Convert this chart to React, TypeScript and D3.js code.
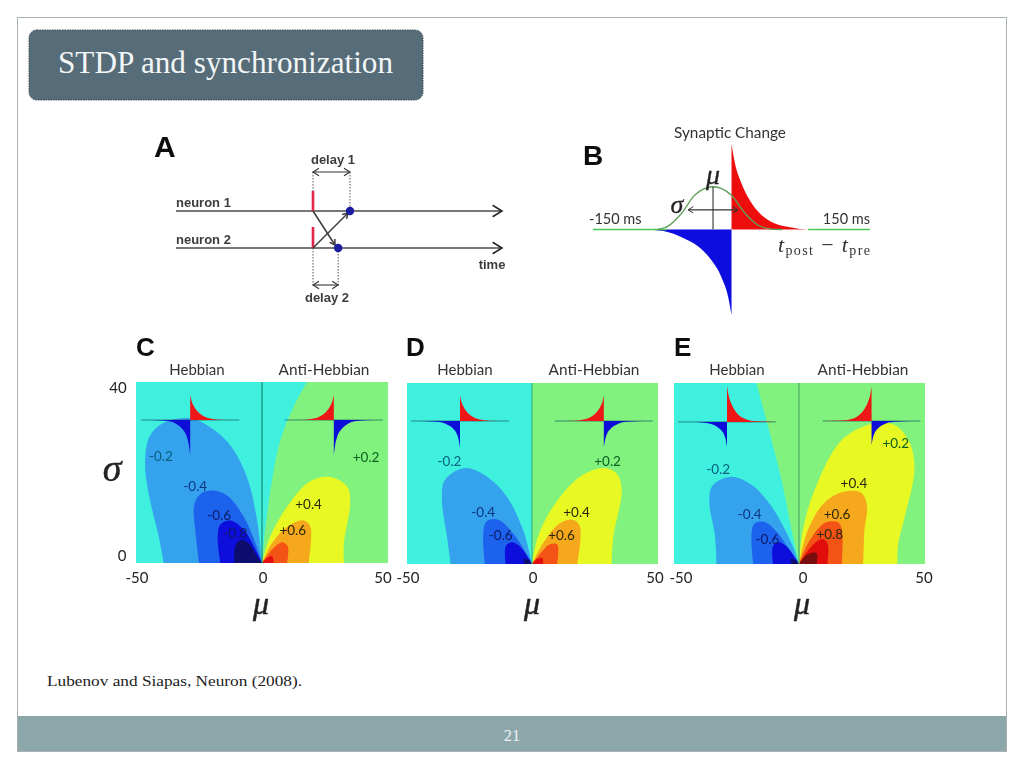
import React from "react";
import * as d3 from "d3";

type P = [number, number];

// ---------- Contour data: [mu, sigma] ----------
const cNeutral: P[] = [[0,0],[1.3,7.4],[4,18.4],[7.3,27.2],[12.6,34.6],[17.9,40]];
const cNeg: P[][] = [
  [[-39,0],[-41,5.9],[-45,15.4],[-46.4,22],[-44.6,28],[-39,31],[-28.5,32],[-20.5,30],[-12.6,26],[-6,19],[-2,9.6],[0,0]],
  [[-25,0],[-26.5,7.4],[-27,12.5],[-25,15],[-20.5,16],[-14,15],[-7.3,10.3],[-2.6,4.4],[0,0]],
  [[-16.5,0],[-17.6,5.9],[-16.5,8.5],[-12.6,9.4],[-7.3,7.4],[-2.6,3],[0,0]],
  [[-11,0],[-10.6,3.7],[-8.6,5.1],[-5.3,4.4],[-2,1.5],[0,0]],
];
const cPos: P[][] = [
  [[32.5,0],[32.5,4.4],[35,13.2],[33.8,16.9],[27,19],[19,18],[10,12.5],[3.3,5.9],[0,0]],
  [[18.5,0],[19.2,8],[16.6,9.4],[10,8],[4,4.4],[0,0]],
  [[10,0],[10.2,3.7],[8,4.6],[4,3],[0,0]],
  [[4.6,0],[4,1.5],[2,1.1],[0,0]],
];
const dNeutral: P[] = [[0,0],[0,40]];
const dNeg: P[][] = [
  [[-32.5,0],[-34,6],[-36,14.2],[-34.8,18.6],[-26.8,21.2],[-18,19.3],[-10.2,15],[-3.6,7.6],[0,0]],
  [[-18.9,0],[-19.5,6.8],[-18.2,9.4],[-13.5,9.8],[-7.6,6.8],[-1.6,1.7],[0,0]],
  [[-10.5,0],[-10.5,3.9],[-8.2,4.8],[-4.9,3.9],[0,0]],
  [[-2.9,0],[-3.3,1],[-1.6,1],[0,0]],
];
const dPos: P[][] = [
  [[31.6,0],[32.3,6.1],[35.6,16.4],[33.6,20],[28.3,21.2],[19,19.3],[8.4,12.7],[2.4,6.1],[0,0]],
  [[18,0],[19,8.3],[16.3,9.8],[11,9],[4.4,4.6],[0,0]],
  [[10,0],[10,4.3],[7,4.3],[2.4,1.7],[0,0]],
  [[4.4,0],[4.1,1.3],[1.7,1],[0,0]],
];
const eNeutral: P[] = [[0,0],[-3,7.6],[-7,18.6],[-12.4,30.4],[-17,40]];
const eNeg: P[][] = [
  [[-33,0],[-33.6,6.1],[-35.9,14.2],[-34.3,17.5],[-27,19.3],[-19,17.5],[-11,12.7],[-3,4.6],[0,0]],
  [[-18.3,0],[-19,6.8],[-17.7,9],[-13.7,9.3],[-8.4,6.8],[-2.4,1.7],[0,0]],
  [[-10.4,0],[-10.4,3.9],[-8.4,4.8],[-5,3.9],[0,0]],
  [[-3,0],[-3.3,1],[-1.6,1],[0,0]],
];
const ePos: P[][] = [
  [[39,0],[39.4,4.6],[42,10.5],[45.8,20.8],[44,26.7],[38,30.7],[29,31],[17,27.4],[6.2,16.4],[1.6,7.6],[0,0]],
  [[25.5,0],[26,7.6],[27,12.7],[24.8,15.7],[18,16],[10,13.5],[3.6,7.6],[0,0]],
  [[17,0],[17,7.6],[15.5,9.2],[10,9],[3.6,4.6],[0,0]],
  [[11.3,0],[11.3,4.6],[9,5.5],[5,3.9],[0,0]],
  [[7,0],[7,2.4],[3,2],[0,0]],
];

const negColors = ["#36a2ee", "#1f62ec", "#0808dc", "#08086e"];
const posColors = ["#e8f822", "#f6a81e", "#f45212", "#e21010", "#780a0a"];
const cyanBg = "#3ff0de";
const greenBg = "#82f27e";

type Lbl = [string, number, number];
const cLabels: Lbl[] = [["-0.2",-40.1,23.7],["-0.4",-26.5,17],["-0.6",-17,10.5],["-0.8",-10.6,6.6],["+0.2",41.3,23.4],["+0.4",18.5,13],["+0.6",12.2,7.4]];
const dLabels: Lbl[] = [["-0.2",-33,22.8],["-0.4",-19.5,11.6],["-0.6",-12.5,6.3],["+0.2",30,22.8],["+0.4",17.7,11.5],["+0.6",11.7,6.5]];
const eLabels: Lbl[] = [["-0.2",-32.3,21],["-0.4",-19.7,11],["-0.6",-12.6,5.5],["+0.2",38.4,26.8],["+0.4",21.8,18],["+0.6",15.1,11],["+0.8",12.2,6.7]];

// Learning-window shape of the small insets: [mu offset, amplitude fraction]
const insetUpper: P[] = [[0,1],[0.5,0.78],[1.3,0.58],[2.6,0.38],[4,0.24],[6,0.12],[8,0.06],[11,0.015],[19,0]];
const insetLower: P[] = [[0,1],[0.5,0.72],[1.3,0.48],[2.6,0.3],[4,0.19],[6,0.09],[9,0.03],[13,0.006],[19,0]];
// [centre mu, centre sigma, red height, blue depth, mirrored]
type Inset = [number, number, number, number, boolean];
const cInsets: Inset[] = [[-28.5,31.6,5.5,7.8,false],[28.5,31.6,5.5,7.8,true]];
const dInsets: Inset[] = [[-28.8,31.6,5.6,5.9,false],[28.5,31.6,5.6,5.9,true]];
const eInsets: Inset[] = [[-28.8,31.4,8,5.5,false],[28.8,31.6,7.6,5.3,true]];

const ticksMu = [-50, 0, 50];

// Panel B
const redT = [0,3.6,10.8,21.7,32.5,47,65,83,150];
const redA = [1,0.78,0.54,0.31,0.17,0.07,0.024,0,0];
const blueT = [0,-3.6,-10.8,-21.7,-36,-54,-76,-98,-150];
const blueA = [-1,-0.79,-0.56,-0.36,-0.2,-0.09,-0.016,0,0];
const gaussT = [-80,-68.7,-54,-40,-20,0,14.5,29,43,55];
const gaussA = [0,0.04,0.19,0.4,0.5,0.4,0.19,0.05,0.005,0];
const gaussMean = -20;
const gaussSpan = [-47, 7];

// Panel A (time units)
const delay1 = 10;
const delay2 = 6.8;

const SANS = "Lato, 'Open Sans', sans-serif";
const SERIF = "'Liberation Serif', 'DejaVu Serif', serif";
const BOLD = "'Liberation Sans', Arial, sans-serif";

function Panel({ id, x0, x1, xz, y0, y1, neutral, neg, pos, labels, insets, tickShift, hebX, antiX, letter, letterX, muX, axisCol }: any) {
  const X = d3.scaleLinear().domain([-50, 0, 50]).range([x0, xz, x1]);
  const Y = d3.scaleLinear().domain([0, 40]).range([y1, y0]);
  const line = d3.line<P>().x((d) => X(d[0])).y((d) => Y(d[1])).curve(d3.curveCatmullRom.alpha(0.5));
  const closed = (pts: P[]) => line(pts) + "Z";
  const greenPath = line(neutral) + `L${X(50)},${Y(40)}L${X(50)},${Y(0)}Z`;
  const inset = (ins: Inset, k: number) => {
    const [m, s, up, down, mirror] = ins;
    const dir = mirror ? -1 : 1;
    const cx = X(m);
    const cy = Y(s);
    const pxMu = (x1 - x0) / 100;
    const pxS = (y1 - y0) / 40;
    const l = d3.line<P>().curve(d3.curveMonotoneX);
    const sortX = (a: P[]) => a.sort((p, q) => p[0] - q[0]);
    const up0 = sortX(insetUpper.map((d) => [cx + dir * d[0] * pxMu, cy - d[1] * up * pxS] as P));
    const dn0 = sortX(insetLower.map((d) => [cx - dir * d[0] * pxMu, cy + d[1] * down * pxS] as P));
    return (
      <g key={k}>
        <line x1={cx - 19.5 * pxMu} x2={cx + 19.5 * pxMu} y1={cy} y2={cy} stroke="#14605c" strokeWidth={0.7} />
        <path d={l(up0) + `L${cx},${cy}Z`} fill="#ee1414" />
        <path d={l(dn0) + `L${cx},${cy}Z`} fill="#0c0cd8" />
      </g>
    );
  };
  return (
    <g>
      <clipPath id={id}>
        <rect x={x0} y={y0} width={x1 - x0} height={y1 - y0} />
      </clipPath>
      <g clipPath={`url(#${id})`}>
        <rect x={x0} y={y0} width={x1 - x0} height={y1 - y0} fill={cyanBg} />
        <path d={greenPath} fill={greenBg} />
        {neg.map((pts: P[], i: number) => <path key={i} d={closed(pts)} fill={negColors[i]} />)}
        {pos.map((pts: P[], i: number) => <path key={i} d={closed(pts)} fill={posColors[i]} />)}
        <line x1={xz} x2={xz} y1={y0} y2={y1} stroke={axisCol} strokeWidth={1.2} />
        {insets.map(inset)}
      </g>
      {labels.map((d: Lbl, i: number) => {
        const isNeg = d[0][0] === "-";
        const v = Math.abs(parseFloat(d[0]));
        const col = isNeg ? (v <= 0.2 ? "#08607e" : v <= 0.4 ? "#0e3682" : "#081a66") : (v <= 0.2 ? "#0a5e20" : "#2a2808");
        return (
          <text key={i} x={X(d[1])} y={Y(d[2]) + 5} textAnchor="middle" fontFamily={SANS} fontSize={13.5} fill={col}>{d[0]}</text>
        );
      })}
      {ticksMu.map((t, i) => (
        <text key={t} x={X(t) + tickShift[i]} y={582.5} textAnchor="middle" fontFamily={SANS} fontSize={15} fill="#222">{t}</text>
      ))}
      <text x={hebX} y={375} textAnchor="middle" fontFamily={SANS} fontSize={15} fill="#333">Hebbian</text>
      <text x={antiX} y={375} textAnchor="middle" fontFamily={SANS} fontSize={15.4} fill="#333">Anti-Hebbian</text>
      <text x={letterX} y={356} fontFamily={BOLD} fontWeight="bold" fontSize={26} fill="#111">{letter}</text>
      <text x={muX} y={614} textAnchor="middle" fontFamily={SERIF} fontStyle="italic" fontSize={32} fill="#222" stroke="#222" strokeWidth={0.5}>μ</text>
    </g>
  );
}

function arrowHead(x: number, y: number, ang: number, size: number) {
  const a1 = ang + Math.PI - 0.55;
  const a2 = ang + Math.PI + 0.55;
  return `M${x + size * Math.cos(a1)},${y + size * Math.sin(a1)}L${x},${y}L${x + size * Math.cos(a2)},${y + size * Math.sin(a2)}`;
}

function PanelA() {
  const T = d3.scaleLinear().domain([0, 10]).range([313, 350]);
  const Yn = d3.scalePoint<string>().domain(["neuron 1", "neuron 2"]).range([211, 248]);
  const y1 = Yn("neuron 1")!;
  const y2 = Yn("neuron 2")!;
  const tEnd = T.invert(502);
  const tStart = T.invert(176);
  const dash = "1.5 1.5";
  const dbl = (a: number, b: number, y: number) => (
    <g stroke="#333" fill="none" strokeWidth={1.1}>
      <line x1={a} x2={b} y1={y} y2={y} />
      <path d={arrowHead(a, y, Math.PI, 7)} />
      <path d={arrowHead(b, y, 0, 7)} />
    </g>
  );
  const ax1 = Math.atan2(245 - y1, 335 - T(0));
  const ax2 = Math.atan2(213 - y2, 348 - T(0));
  return (
    <g>
      <text x={154} y={157} fontFamily={BOLD} fontWeight="bold" fontSize={30} fill="#111">A</text>
      {["neuron 1", "neuron 2"].map((n) => (
        <g key={n}>
          <text x={T(tStart)} y={Yn(n)! - 4} fontFamily={BOLD} fontWeight="bold" fontSize={13} fill="#3c3c3c">{n}</text>
          <line x1={T(tStart)} x2={T(tEnd)} y1={Yn(n)!} y2={Yn(n)!} stroke="#4a4a4a" strokeWidth={1.7} />
          <path d={arrowHead(T(tEnd), Yn(n)!, 0, 11)} stroke="#222" strokeWidth={1.5} fill="none" />
        </g>
      ))}
      <text x={492} y={269} textAnchor="middle" fontFamily={BOLD} fontWeight="bold" fontSize={13} fill="#3c3c3c">time</text>
      <line x1={T(0)} x2={T(0)} y1={172} y2={191} stroke="#555" strokeDasharray={dash} />
      <line x1={T(delay1)} x2={T(delay1)} y1={172} y2={y1} stroke="#555" strokeDasharray={dash} />
      <line x1={T(0)} x2={T(0)} y1={y2} y2={285} stroke="#555" strokeDasharray={dash} />
      <line x1={T(delay2)} x2={T(delay2)} y1={y2} y2={285} stroke="#555" strokeDasharray={dash} />
      {dbl(T(0), T(delay1), 172)}
      {dbl(T(0), T(delay2), 285)}
      <text x={333} y={164} textAnchor="middle" fontFamily={BOLD} fontWeight="bold" fontSize={13} fill="#3c3c3c">delay 1</text>
      <text x={327} y={302} textAnchor="middle" fontFamily={BOLD} fontWeight="bold" fontSize={13} fill="#3c3c3c">delay 2</text>
      <line x1={T(0)} x2={T(0)} y1={191} y2={y1} stroke="#e0264a" strokeWidth={2.6} />
      <line x1={T(0)} x2={T(0)} y1={227} y2={y2} stroke="#e0264a" strokeWidth={2.6} />
      <g stroke="#3a3a3a" strokeWidth={1.5} fill="none">
        <line x1={T(0)} y1={y1} x2={335} y2={245} />
        <line x1={T(0)} y1={y2} x2={348} y2={213} />
        <path d={arrowHead(335, 245, ax1, 6)} />
        <path d={arrowHead(348, 213, ax2, 6)} />
      </g>
      <circle cx={T(delay1)} cy={y1} r={4.2} fill="#1a1aa0" />
      <circle cx={T(delay2)} cy={y2} r={4.2} fill="#1a1aa0" />
    </g>
  );
}

function PanelB() {
  const X = d3.scaleLinear().domain([-150, 150]).range([593, 870]);
  const Y = d3.scaleLinear().domain([-1, 1]).range([315, 144]);
  const zip = (ts: number[], as: number[]) => ts.map((t, i) => [t, as[i]] as P).sort((a, b) => a[0] - b[0]);
  const ln = d3.line<P>().x((d) => X(d[0])).y((d) => Y(d[1])).curve(d3.curveMonotoneX);
  const ar = d3.area<P>().x((d) => X(d[0])).y0(Y(0)).y1((d) => Y(d[1])).curve(d3.curveMonotoneX);
  const ymid = Y(0.23);
  return (
    <g>
      <text x={583} y={165} fontFamily={BOLD} fontWeight="bold" fontSize={28} fill="#111">B</text>
      <path d={ar(zip(redT, redA))!} fill="#ee1010" />
      <path d={ar(zip(blueT, blueA))!} fill="#0c0ce0" />
      <line x1={X(-150)} x2={X(-70)} y1={Y(0)} y2={Y(0)} stroke="#4cc850" strokeWidth={1.3} />
      <line x1={X(83)} x2={X(150)} y1={Y(0)} y2={Y(0)} stroke="#4cc850" strokeWidth={1.3} />
      <path d={ln(zip(gaussT, gaussA))!} fill="none" stroke="#5f9f58" strokeWidth={1.3} />
      <line x1={X(gaussMean)} x2={X(gaussMean)} y1={Y(0)} y2={Y(0.5)} stroke="#333" strokeWidth={1.1} />
      <line x1={X(gaussSpan[0])} x2={X(gaussSpan[1])} y1={ymid} y2={ymid} stroke="#333" strokeWidth={1.1} />
      <path d={arrowHead(X(gaussSpan[0]), ymid, Math.PI, 6)} stroke="#333" fill="none" />
      <path d={arrowHead(X(gaussSpan[1]), ymid, 0, 6)} stroke="#333" fill="none" />
      <text x={730} y={138} textAnchor="middle" fontFamily={SANS} fontSize={15.3} fill="#333">Synaptic Change</text>
      <text x={589} y={224} fontFamily={SANS} fontSize={14.5} fill="#333">-150 ms</text>
      <text x={870} y={224} textAnchor="end" fontFamily={SANS} fontSize={14.5} fill="#333">150 ms</text>
      <text x={713} y={184} textAnchor="middle" fontFamily={SERIF} fontStyle="italic" fontSize={28} fill="#222" stroke="#222" strokeWidth={0.3}>μ</text>
      <text x={677} y={213} textAnchor="middle" fontFamily={SERIF} fontStyle="italic" fontSize={26} fill="#222" stroke="#222" strokeWidth={0.3}>σ</text>
      <text x={778} y={252} fontFamily={SERIF} fontSize={22} fill="#333" textLength={92}>
        <tspan fontStyle="italic">t</tspan>
        <tspan dy={3} fontSize={14}>post</tspan>
        <tspan dy={-3}> − </tspan>
        <tspan fontStyle="italic">t</tspan>
        <tspan dy={3} fontSize={14}>pre</tspan>
      </text>
    </g>
  );
}

export default function App() {
  return (
    <svg width={1024} height={768} style={{ position: "absolute", left: 0, top: 0, background: "#fff" }}>
      <defs>
        <filter id="soft" x="-5%" y="-5%" width="110%" height="110%">
          <feGaussianBlur stdDeviation={0.55} />
        </filter>
      </defs>
      <rect x={17.5} y={17.5} width={989} height={734} fill="#fff" stroke="#a8b2b2" strokeWidth={1} />
      <rect x={29} y={30} width={394} height={70} rx={8} fill="#566c78" stroke="#3e4f58" strokeWidth={1} strokeDasharray="1.5 1" />
      <text x={58} y={73} fontFamily={SERIF} fontSize={32} fill="#f2f6f6" textLength={335} lengthAdjust="spacingAndGlyphs">STDP and synchronization</text>

      <g filter="url(#soft)">
        <PanelA />
        <PanelB />
        <Panel id="cp" x0={136} x1={388} xz={262} y0={382} y1={563} neutral={cNeutral} neg={cNeg} pos={cPos} labels={cLabels} insets={cInsets}
          tickShift={[1, 1, -5]} hebX={197} antiX={324} letter="C" letterX={136} muX={261} axisCol="#1a8a78" />
        <Panel id="dp" x0={407} x1={658} xz={532} y0={383} y1={564} neutral={dNeutral} neg={dNeg} pos={dPos} labels={dLabels} insets={dInsets}
          tickShift={[1, 1, -3]} hebX={465} antiX={594} letter="D" letterX={406} muX={532} axisCol="#3cb87c" />
        <Panel id="ep" x0={674} x1={925} xz={799} y0={383} y1={564} neutral={eNeutral} neg={eNeg} pos={ePos} labels={eLabels} insets={eInsets}
          tickShift={[7, 4, -1]} hebX={737} antiX={863} letter="E" letterX={674} muX={802} axisCol="#4ea86c" />
        <text x={118} y={393} textAnchor="middle" fontFamily={SANS} fontSize={15} fill="#222">40</text>
        <text x={122} y={561} textAnchor="middle" fontFamily={SANS} fontSize={15} fill="#222">0</text>
        <text x={112} y={481} textAnchor="middle" fontFamily={SERIF} fontStyle="italic" fontSize={38} fill="#222" stroke="#222" strokeWidth={0.4}>σ</text>
      </g>

      <text x={47} y={686} fontFamily={SERIF} fontSize={15.5} fill="#222" textLength={255} lengthAdjust="spacingAndGlyphs">Lubenov and Siapas, Neuron (2008).</text>
      <rect x={18} y={716} width={988} height={35} fill="#8ba7aa" />
      <text x={512} y={741} textAnchor="middle" fontFamily={SERIF} fontSize={16.5} fill="#eef2f2">21</text>
    </svg>
  );
}
